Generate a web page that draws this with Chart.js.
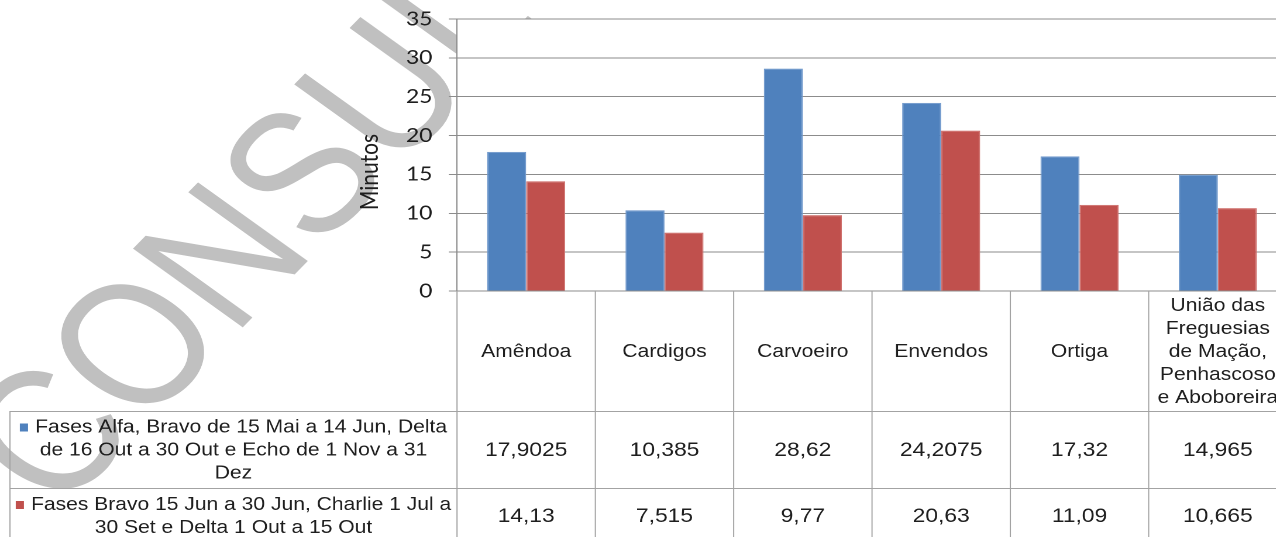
<!DOCTYPE html>
<html>
<head>
<meta charset="utf-8">
<script src="https://cdn.jsdelivr.net/npm/chart.js@4.4.1/dist/chart.umd.min.js"></script>
<style>
  html, body { margin: 0; padding: 0; background: #fff; overflow: hidden; }
  /* the reference is horizontally stretched, so draw narrow and stretch */
  #wrap { position: absolute; left: 0; top: 0; width: 1104px; height: 537px; transform: scaleX(1.17); transform-origin: 0 0; }
</style>
</head>
<body>
<div id="wrap"><canvas id="chart"></canvas></div>
<script>
const categories = ['Amêndoa', 'Cardigos', 'Carvoeiro', 'Envendos', 'Ortiga',
  ['União das', 'Freguesias', 'de Mação,', 'Penhascoso', 'e Aboboreira']];
const seriesNames = [
  ['Fases Alfa, Bravo de 15 Mai a 14 Jun, Delta', 'de 16 Out a 30 Out e Echo de 1 Nov a 31', 'Dez'],
  ['Fases Bravo 15 Jun a 30 Jun, Charlie 1 Jul a', '30 Set e Delta 1 Out a 15 Out']
];
const alfaValues = [17.9025, 10.385, 28.62, 24.2075, 17.32, 14.965];
const bravoValues = [14.13, 7.515, 9.77, 20.63, 11.09, 10.665];
const yTicks = { min: 0, max: 35, step: 5 };
const yTitle = 'Minutos';
const watermarkText = 'CONSULTA';

const colors = ['#4f81bd', '#c0504d'];
const edgeColors = ['#6f98cc', '#cf706d'];
const gridColor = '#8c8c8c';
const tableColor = '#a3a3a3';
const textColor = '#1e1e1e';
const wordFont = '18px "Liberation Sans", Arial, sans-serif';
const numFont = '19.5px "Liberation Sans", Arial, sans-serif';
const lineH = 23;

function fmt(v) { return String(v).replace('.', ','); }

// watermark sits behind the axes text, the plot area is filled white over it
const watermark = {
  id: 'watermark',
  beforeDraw(chart) {
    const ctx = chart.ctx;
    const a = chart.chartArea;
    ctx.save();
    ctx.translate(50, 515);
    ctx.rotate(-50 * Math.PI / 180);
    ctx.scale(0.87, 1);
    ctx.font = '178px "Liberation Sans", Arial, sans-serif';
    ctx.fillStyle = '#c0c0c0';
    ctx.fillText(watermarkText, 0, 0);
    ctx.restore();
    ctx.save();
    ctx.fillStyle = '#fff';
    ctx.fillRect(a.left, a.top, a.right - a.left, a.bottom - a.top);
    ctx.restore();
  }
};

const dataTable = {
  id: 'dataTable',
  afterDraw(chart) {
    const ctx = chart.ctx;
    const area = chart.chartArea;
    const xs = chart.scales.x;
    const n = chart.data.labels.length;
    const colW = (area.right - area.left) / n;
    const top = area.bottom;
    const headBottom = top + 120;
    const row1Bottom = headBottom + 77;
    const row2Bottom = row1Bottom + 55;
    const legLeft = 8.5;
    const farRight = area.right + 10;

    ctx.save();
    ctx.strokeStyle = tableColor;
    ctx.lineWidth = 1;
    ctx.beginPath();
    for (let i = 0; i <= n; i++) {
      const x = (i < n ? xs.getPixelForValue(i) - colW / 2 : area.right);
      ctx.moveTo(x, top);
      ctx.lineTo(x, row2Bottom);
    }
    ctx.moveTo(legLeft, headBottom); ctx.lineTo(legLeft, row2Bottom);
    [headBottom, row1Bottom, row2Bottom].forEach(y => {
      ctx.moveTo(legLeft, y + 0.5); ctx.lineTo(farRight, y + 0.5);
    });
    ctx.stroke();

    ctx.fillStyle = textColor;
    ctx.textAlign = 'center';
    ctx.textBaseline = 'middle';

    // category header
    ctx.font = wordFont;
    chart.data.labels.forEach((lab, i) => {
      const lines = Array.isArray(lab) ? lab : [lab];
      const cx = xs.getPixelForValue(i);
      const cy = (top + headBottom) / 2 + 1;
      lines.forEach((t, k) => ctx.fillText(t, cx, cy + (k - (lines.length - 1) / 2) * lineH));
    });

    // series rows
    const rows = [[headBottom, row1Bottom], [row1Bottom, row2Bottom]];
    chart.data.datasets.forEach((ds, d) => {
      const [r0, r1] = rows[d];
      const cy = (r0 + r1) / 2;
      const lines = seriesNames[d];
      const legCx = (legLeft + area.left) / 2;
      ctx.font = wordFont;
      lines.forEach((t, k) => {
        const y = cy + 1 + (k - (lines.length - 1) / 2) * lineH;
        if (k === 0) {
          const tw = ctx.measureText(t).width;
          const mk = 7, gap = 6;
          const start = legCx - (tw + mk + gap) / 2;
          ctx.fillStyle = ds.backgroundColor;
          ctx.fillRect(start, y - 4, mk, 8);
          ctx.fillStyle = textColor;
          ctx.textAlign = 'left';
          ctx.fillText(t, start + mk + gap, y);
          ctx.textAlign = 'center';
        } else {
          ctx.fillText(t, legCx, y);
        }
      });
      ctx.font = numFont;
      ds.data.forEach((v, i) => ctx.fillText(fmt(v), xs.getPixelForValue(i), cy + 1));
    });

    // axis title
    ctx.translate(316, 172);
    ctx.rotate(-Math.PI / 2);
    ctx.font = '21px Lato, "Open Sans", sans-serif';
    ctx.fillText(yTitle, 0, 0);
    ctx.restore();
  }
};

new Chart(document.getElementById('chart'), {
  type: 'bar',
  data: {
    labels: categories,
    datasets: [
      { label: seriesNames[0].join(' '), data: alfaValues, backgroundColor: colors[0], borderColor: edgeColors[0] },
      { label: seriesNames[1].join(' '), data: bravoValues, backgroundColor: colors[1], borderColor: edgeColors[1] }
    ]
  },
  options: {
    responsive: true,
    maintainAspectRatio: false,
    animation: false,
    devicePixelRatio: 2,
    layout: { padding: { left: 0, top: 19, right: 4, bottom: 246 } },
    datasets: { bar: { barPercentage: 1, categoryPercentage: 0.564, borderWidth: { top: 1, left: 1, right: 1, bottom: 0 } } },
    plugins: { legend: { display: false }, tooltip: { enabled: false } },
    scales: {
      x: { display: false },
      y: {
        min: yTicks.min,
        max: yTicks.max,
        ticks: { stepSize: yTicks.step, color: textColor, padding: 14, font: { family: 'Lato', size: 19.5 } },
        grid: { color: gridColor, tickColor: gridColor, tickLength: 7 },
        border: { color: gridColor },
        afterFit(s) { s.width = 390.6; s.paddingTop = 0; s.paddingBottom = 0; }
      }
    }
  },
  plugins: [watermark, dataTable]
});
</script>
</body>
</html>
